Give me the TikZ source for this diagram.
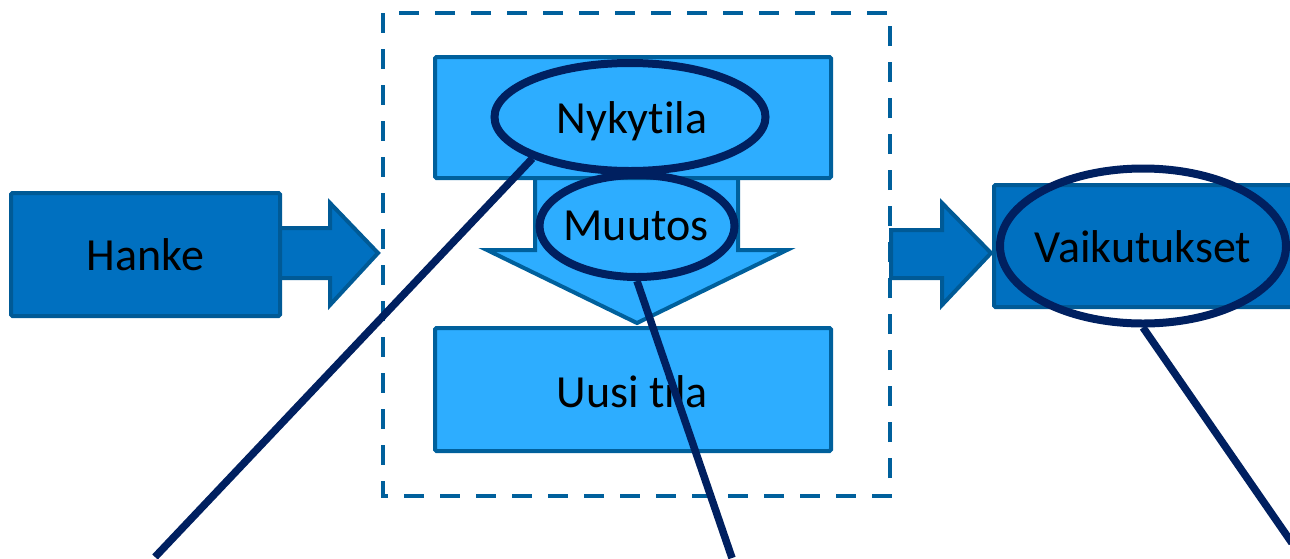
\documentclass[tikz,border=0pt]{standalone}
\usepackage{fontspec}
\setmainfont{Carlito}[Ligatures=NoCommon]
\usetikzlibrary{shapes.geometric}
\definecolor{darkfill}{HTML}{0070C0}
\definecolor{darkedge}{HTML}{005A96}
\definecolor{lightfill}{HTML}{2DADFF}
\definecolor{lightedge}{HTML}{00609C}
\definecolor{navy}{HTML}{002060}
\tikzset{
  darkbox/.style={draw=darkedge, fill=darkfill, line width=4pt, rounded corners=1.5pt},
  lightbox/.style={draw=lightedge, fill=lightfill, line width=4pt, rounded corners=1.5pt},
  darkarrow/.style={draw=darkedge, fill=darkfill, line width=4pt, line join=miter},
  lightarrow/.style={draw=lightedge, fill=lightfill, line width=4pt, line join=miter},
  oval/.style={ellipse, draw=navy, line width=8pt, inner sep=0pt},
  lbl/.style={anchor=base, inner sep=0pt, font=\fontsize{46}{55}\selectfont, text=black},
  pointer/.style={draw=navy, line width=7.5pt},
  frame/.style={draw=lightedge, line width=4.5pt, dash pattern=on 20pt off 16pt},
}
\begin{document}
\begin{tikzpicture}[x=1pt, y=-1pt]
\useasboundingbox (0,0) rectangle (1290,558);
\clip (0,0) rectangle (1290,558);
% dashed frame
\draw[frame] (383,13) rectangle (890,496);
% Hanke arrow and box
\draw[darkarrow] (270,228) -- (330,228) -- (330,203) -- (378,253) -- (330,305) -- (330,278) -- (270,278) -- cycle;
\draw[darkbox] (11,193) rectangle (280,316);
\node[lbl] (hanke) at (145.5,270) {Hanke};
% down arrow
\draw[lightarrow] (535,170) -- (535,250) -- (487,250) -- (637,323) -- (787,250) -- (738,250) -- (738,170) -- cycle;
\draw[lightbox] (435,57) rectangle (831,178);
\draw[lightbox] (435,328) rectangle (831,451);
\node[lbl] (uusi) at (632.5,407) {Uusi tila};
% right arrow and Vaikutukset box
\draw[darkarrow] (891,230) -- (942,230) -- (942,203) -- (991,253) -- (942,305) -- (942,278) -- (891,278) -- cycle;
\draw[darkbox] (994,185) rectangle (1302,307);
% ovals
\node[oval, minimum width=271, minimum height=108] (nyk) at (630,117) {};
\node[lbl] at (632,133) {Nykytila};
\node[oval, minimum width=195, minimum height=102] (muutos) at (637,226) {};
\node[lbl] at (636,240) {Muutos};
\node[oval, minimum width=286, minimum height=155] (vaik) at (1143,246) {};
\node[lbl] at (1143,262) {Vaikutukset};
% pointer lines
\coordinate (e1) at (155,557);
\coordinate (e2) at (732,558);
\coordinate (e3) at (1292,543);
\draw[pointer] (nyk.203) -- (e1);
\draw[pointer] (muutos.south) -- (e2);
\draw[pointer] (vaik.south) -- (e3);
\end{tikzpicture}
\end{document}
